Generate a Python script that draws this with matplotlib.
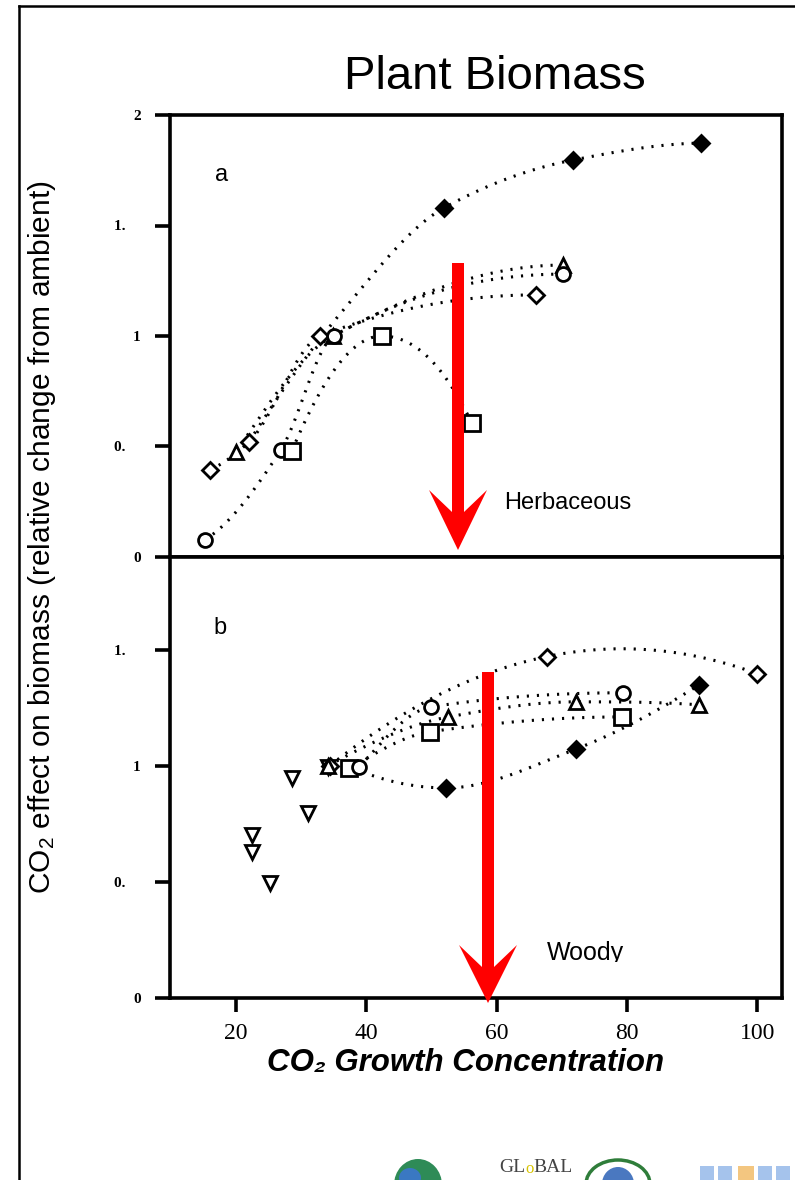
import numpy as np
import matplotlib
matplotlib.use("Agg")
import matplotlib.pyplot as plt
from matplotlib.patches import Polygon, Ellipse
from matplotlib.lines import Line2D
from matplotlib.transforms import Bbox, TransformedBbox

# ---------------- data ----------------
# Panel a: Herbaceous
herb_fdiam_x = [22.0, 36.0, 51.9, 71.7, 91.4]
herb_fdiam_y = [0.52, 1.10, 1.579, 1.796, 1.873]
herb_fdiam_shown = [2, 3, 4]
herb_diam_x = [16.0, 22.0, 32.9, 66.1]
herb_diam_y = [0.394, 0.52, 1.0, 1.186]
herb_tri_x = [20.0, 34.9, 70.2]
herb_tri_y = [0.475, 1.0, 1.321]
herb_circ_x = [15.2, 26.9, 35.0, 70.2]
herb_circ_y = [0.077, 0.484, 1.0, 1.28]
herb_sq_x = [28.6, 42.4, 56.2]
herb_sq_y = [0.48, 1.0, 0.606]

# Panel b: Woody
wood_down_x = [28.6, 22.5, 22.5, 25.2, 31.1, 34.1]
wood_down_y = [0.948, 0.703, 0.629, 0.496, 0.797, 0.996]
wood_diam_x = [34.4, 67.7, 100.0]
wood_diam_y = [1.0, 1.471, 1.397]
wood_circ_x = [38.9, 49.9, 79.4]
wood_circ_y = [0.996, 1.254, 1.315]
wood_tri_x = [34.1, 52.6, 72.2, 91.1]
wood_tri_y = [1.0, 1.211, 1.276, 1.263]
wood_sq_x = [37.4, 49.8, 79.3]
wood_sq_y = [0.99, 1.147, 1.211]
wood_fdiam_x = [38.0, 52.3, 72.2, 91.1]
wood_fdiam_y = [0.99, 0.905, 1.073, 1.349]
wood_fdiam_shown = [1, 2, 3]

x_ticks = [20, 40, 60, 80, 100]
x_ticklabels = ["20", "40", "60", "80", "100"]
a_yticks = [0, 0.5, 1.0, 1.5, 2.0]
a_yticklabels = ["0", "0.    ", "1", "1.    ", "2"]
b_yticks = [0, 0.5, 1.0, 1.5]
b_yticklabels = ["0", "0.    ", "1", "1.    "]

# ---------------- helpers ----------------
W, H = 795, 1180


def fx(px):
    return px / W


def fy(py):
    return 1 - py / H


def pchip(x, y, xs):
    x = np.asarray(x, float)
    y = np.asarray(y, float)
    h = np.diff(x)
    d = np.diff(y) / h
    n = len(x)
    m = np.zeros(n)
    if n == 2:
        m[:] = d[0]
    else:
        for k in range(1, n - 1):
            if d[k - 1] * d[k] <= 0:
                m[k] = 0
            else:
                w1 = 2 * h[k] + h[k - 1]
                w2 = h[k] + 2 * h[k - 1]
                m[k] = (w1 + w2) / (w1 / d[k - 1] + w2 / d[k])

        def endp(h0, h1, d0, d1):
            mm = ((2 * h0 + h1) * d0 - h0 * d1) / (h0 + h1)
            if np.sign(mm) != np.sign(d0):
                mm = 0
            elif np.sign(d0) != np.sign(d1) and abs(mm) > abs(3 * d0):
                mm = 3 * d0
            return mm
        m[0] = endp(h[0], h[1], d[0], d[1])
        m[-1] = endp(h[-1], h[-2], d[-1], d[-2])
    ys = np.empty_like(xs)
    for i, xv in enumerate(xs):
        k = min(max(np.searchsorted(x, xv) - 1, 0), n - 2)
        t = (xv - x[k]) / h[k]
        h00 = 2 * t**3 - 3 * t**2 + 1
        h10 = t**3 - 2 * t**2 + t
        h01 = -2 * t**3 + 3 * t**2
        h11 = t**3 - t**2
        ys[i] = h00 * y[k] + h10 * h[k] * m[k] + h01 * y[k + 1] + h11 * h[k] * m[k + 1]
    return ys


def curve(ax, x, y, kind="pchip"):
    xs = np.linspace(min(x), max(x), 200)
    if kind == "quad":
        ys = np.polyval(np.polyfit(x, y, 2), xs)
    else:
        ys = pchip(x, y, xs)
    ax.plot(xs, ys, color="black", lw=2.2, ls=(0, (0.7, 2.6)), zorder=2)


def marks(ax, x, y, marker, ms, filled=False, idx=None):
    x = np.asarray(x)
    y = np.asarray(y)
    if idx is not None:
        x = x[idx]
        y = y[idx]
    ax.plot(x, y, ls="none", marker=marker, ms=ms,
            mfc="black" if filled else "white", mec="black", mew=2.0, zorder=3)


plt.rcParams["font.family"] = ["Liberation Sans", "DejaVu Sans"]
plt.rcParams["mathtext.fontset"] = "custom"
plt.rcParams["mathtext.rm"] = "Liberation Sans"
plt.rcParams["mathtext.it"] = "Liberation Sans:italic"
plt.rcParams["mathtext.bf"] = "Liberation Sans:bold"

fig = plt.figure(figsize=(W / 100, H / 100), dpi=100)
fig.patch.set_facecolor("white")

x0, x1 = 170, 782
axa = fig.add_axes([fx(x0), fy(557), fx(x1) - fx(x0), fy(115) - fy(557)])
axb = fig.add_axes([fx(x0), fy(998), fx(x1) - fx(x0), fy(557) - fy(998)])

for ax in (axa, axb):
    ax.set_xlim(9.9, 103.8)
    for s in ax.spines.values():
        s.set_linewidth(2.6)
    ax.tick_params(axis="y", direction="out", length=11, width=2.6, pad=10)
    ax.set_facecolor("white")

axa.set_ylim(0, 2.0)
axb.set_ylim(0, 1.9)

axa.set_xticks([])
axa.set_yticks(a_yticks)
axa.set_yticklabels(a_yticklabels, family="Liberation Serif", weight="bold", fontsize=11)
axb.set_yticks(b_yticks)
axb.set_yticklabels(b_yticklabels, family="Liberation Serif", weight="bold", fontsize=11)
axb.set_xticks(x_ticks)
axb.set_xticklabels(x_ticklabels, family="Liberation Serif", fontsize=17)
axb.tick_params(axis="x", direction="out", length=10, width=2.6, pad=8)

# Panel a
curve(axa, herb_fdiam_x, herb_fdiam_y)
curve(axa, herb_diam_x, herb_diam_y)
curve(axa, herb_tri_x, herb_tri_y)
curve(axa, herb_circ_x, herb_circ_y)
curve(axa, herb_sq_x, herb_sq_y)
marks(axa, herb_fdiam_x, herb_fdiam_y, "D", 8.5, filled=True, idx=herb_fdiam_shown)
marks(axa, herb_diam_x, herb_diam_y, "D", 8.5)
marks(axa, herb_tri_x, herb_tri_y, "^", 10)
marks(axa, herb_circ_x, herb_circ_y, "o", 10)
marks(axa, herb_sq_x, herb_sq_y, "s", 11)

# Panel b
curve(axb, wood_fdiam_x, wood_fdiam_y)
curve(axb, wood_diam_x, wood_diam_y, kind="quad")
curve(axb, wood_tri_x, wood_tri_y)
curve(axb, wood_circ_x, wood_circ_y)
curve(axb, wood_sq_x, wood_sq_y)
marks(axb, wood_down_x, wood_down_y, "v", 10)
marks(axb, wood_fdiam_x, wood_fdiam_y, "D", 8.5, filled=True, idx=wood_fdiam_shown)
marks(axb, wood_diam_x, wood_diam_y, "D", 8.5)
marks(axb, wood_tri_x, wood_tri_y, "^", 10)
marks(axb, wood_sq_x, wood_sq_y, "s", 11)
marks(axb, wood_circ_x, wood_circ_y, "o", 10)

# panel letters and labels
fig.text(fx(222), fy(175), "a", fontsize=17, ha="center", va="center")
fig.text(fx(220), fy(628), "b", fontsize=17, ha="center", va="center")
fig.text(fx(504), fy(503), "Herbaceous", fontsize=17, ha="left", va="center")
tw = fig.text(fx(547), fy(953), "Woody", fontsize=18, ha="left", va="center")
tw.set_clip_box(TransformedBbox(Bbox([[0, fy(962)], [1, 1]]), fig.transFigure))
tw.set_clip_on(True)

fig.text(fx(495), fy(77), "Plant Biomass", fontsize=34, ha="center", va="center")
fig.text(fx(42), fy(537), "CO$_2$ effect on biomass (relative change from ambient)",
         rotation=90, ha="center", va="center", fontsize=21.5,
         family=["Liberation Sans", "DejaVu Sans"])
fig.text(fx(466), fy(1063), "CO\u2082 Growth Concentration", fontsize=22.5,
         style="italic", weight="bold", ha="center", va="center",
         family=["Liberation Sans", "DejaVu Sans"])


# red arrows
def red_arrow(c, top, notch, head_top, tip, half_w=6, half_head=29):
    pts = [(c - half_w, top), (c + half_w, top), (c + half_w, notch),
           (c + half_head, head_top), (c, tip), (c - half_head, head_top),
           (c - half_w, notch)]
    poly = Polygon([(fx(px), fy(py)) for px, py in pts], closed=True,
                   transform=fig.transFigure, facecolor="#ff0000",
                   edgecolor="none", zorder=10)
    fig.patches.append(poly)


red_arrow(458, 263, 512, 490, 550)
red_arrow(488, 672, 967, 945, 1003)

# outer frame
fig.lines.append(Line2D([fx(19), fx(19)], [fy(6), 0], transform=fig.transFigure,
                        color="black", lw=1.8))
fig.lines.append(Line2D([fx(19), 1], [fy(6), fy(6)], transform=fig.transFigure,
                        color="black", lw=1.8))

# logos at the bottom (partially visible)
fig.patches.append(Ellipse((fx(418), fy(1185)), 48 / W, 52 / H, transform=fig.transFigure,
                           facecolor="#2e8b57", edgecolor="none", zorder=5))
fig.patches.append(Ellipse((fx(410), fy(1178)), 22 / W, 20 / H, transform=fig.transFigure,
                           facecolor="#3a78c2", edgecolor="none", zorder=6))
fig.text(fx(525), fy(1167), "GL", fontsize=14, family="Liberation Serif",
         color="#444444", ha="right", va="center")
fig.text(fx(525), fy(1169), "o", fontsize=12, family="Liberation Serif",
         color="#d8c400", ha="left", va="center")
fig.text(fx(533), fy(1167), "BAL", fontsize=14, family="Liberation Serif",
         color="#444444", ha="left", va="center")
fig.patches.append(Ellipse((fx(618), fy(1184)), 64 / W, 48 / H, transform=fig.transFigure,
                           facecolor="white", edgecolor="#2f7d3a", lw=2.5, zorder=5))
fig.patches.append(Ellipse((fx(618), fy(1184)), 32 / W, 34 / H, transform=fig.transFigure,
                           facecolor="#4a78c0", edgecolor="none", zorder=6))
for bx, bw, col in [(700, 14, "#8fb4e8"), (718, 14, "#8fb4e8"), (738, 16, "#f0b860"),
                    (758, 14, "#8fb4e8"), (776, 14, "#8fb4e8")]:
    fig.patches.append(Polygon([(fx(bx), fy(1180)), (fx(bx + bw), fy(1180)),
                                (fx(bx + bw), fy(1166)), (fx(bx), fy(1166))],
                               closed=True, transform=fig.transFigure,
                               facecolor=col, edgecolor="none", alpha=0.8, zorder=5))

fig.savefig("out.png", dpi=100, facecolor="white")
